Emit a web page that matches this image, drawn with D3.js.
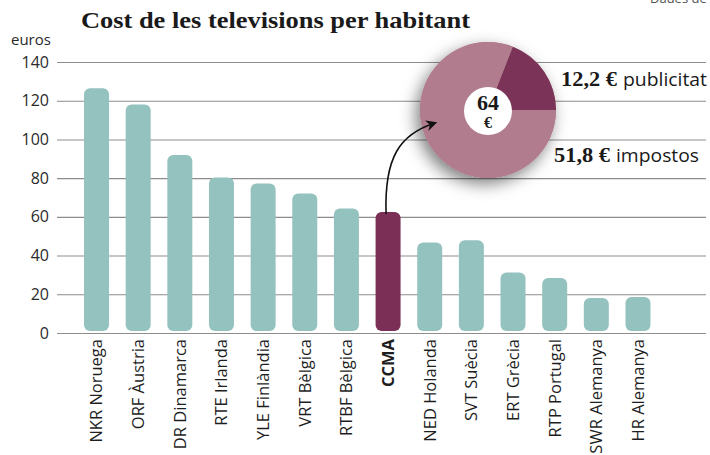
<!DOCTYPE html>
<html>
<head>
<meta charset="utf-8">
<script src="https://cdn.jsdelivr.net/npm/d3@7"></script>
<style>
  body { margin: 0; background: #fff; }
  svg { display: block; }
</style>
</head>
<body>
<div id="chart"></div>
<script>
const broadcasters = [
  "NKR Noruega", "ORF Àustria", "DR Dinamarca", "RTE Irlanda", "YLE Finlàndia",
  "VRT Bèlgica", "RTBF Bèlgica", "CCMA", "NED Holanda", "SVT Suècia",
  "ERT Grècia", "RTP Portugal", "SWR Alemanya", "HR Alemanya"
];
const costPerHead = [126.4, 118.1, 91.9, 80.3, 77.2, 72.1, 64.3, 62.5, 46.7, 47.9, 31.2, 28.4, 18.1, 18.6];
const yTicks = [0, 20, 40, 60, 80, 100, 120, 140];

const pieLabels = ["publicitat", "impostos"];
const pieValues = [12.2, 51.8];
const pieValueText = ["12,2 €", "51,8 €"];
const pieTotal = "64";

const width = 710;
const height = 455;
const teal = "#94c2be";
const wine = "#7c2f56";

const svg = d3.select("#chart")
  .append("svg")
  .attr("width", width)
  .attr("height", height);

const defs = svg.append("defs");
const shadow = defs.append("filter")
  .attr("id", "pieShadow")
  .attr("x", "-40%").attr("y", "-40%")
  .attr("width", "180%").attr("height", "180%");
shadow.append("feDropShadow")
  .attr("dx", -4).attr("dy", 6)
  .attr("stdDeviation", 8)
  .attr("flood-color", "#000")
  .attr("flood-opacity", 0.5);

const marker = defs.append("marker")
  .attr("id", "arrowHead")
  .attr("viewBox", "0 0 10 10")
  .attr("refX", 8).attr("refY", 5)
  .attr("markerWidth", 11).attr("markerHeight", 11)
  .attr("markerUnits", "userSpaceOnUse")
  .attr("orient", "auto");
marker.append("path")
  .attr("d", "M0,0 L10,5 L0,10 L3,5 Z")
  .attr("fill", "#111");

const data = broadcasters.map((name, i) => ({ name, value: costPerHead[i] }));

const x = d3.scaleBand()
  .domain(broadcasters)
  .range([75.7, 658.8])
  .paddingInner(0.4)
  .paddingOuter(0.2);

const y = d3.scaleLinear()
  .domain([0, 140])
  .range([333, 62]);

// grid + tick labels
const yAxis = svg.append("g")
  .attr("transform", "translate(57,0)")
  .call(d3.axisLeft(y).tickValues(yTicks).tickSize(-(706 - 57)).tickPadding(8));
yAxis.select(".domain").remove();
yAxis.selectAll(".tick line")
  .attr("stroke", "#8d8d8d")
  .attr("stroke-width", 1.1);
yAxis.selectAll(".tick text")
  .attr("font-family", "'Open Sans', sans-serif")
  .attr("font-size", 16)
  .attr("fill", "#2a2a2a");

svg.append("text")
  .attr("x", 11)
  .attr("y", 45)
  .attr("font-family", "'Open Sans', sans-serif")
  .attr("font-size", 15)
  .attr("fill", "#2a2a2a")
  .text("euros");

// bars
svg.selectAll("rect.bar")
  .data(data)
  .enter()
  .append("rect")
  .attr("class", "bar")
  .attr("x", d => x(d.name))
  .attr("y", d => y(d.value))
  .attr("width", x.bandwidth())
  .attr("height", d => y(0) - 2 - y(d.value))
  .attr("rx", 6)
  .attr("fill", d => d.name === "CCMA" ? wine : teal);

// category labels
svg.selectAll("text.cat")
  .data(data)
  .enter()
  .append("text")
  .attr("class", "cat")
  .attr("transform", d => `translate(${x(d.name) + x.bandwidth() / 2},339) rotate(-90)`)
  .attr("text-anchor", "end")
  .attr("dy", "0.36em")
  .attr("font-family", "'Open Sans', sans-serif")
  .attr("font-size", 16.5)
  .attr("font-weight", d => d.name === "CCMA" ? 700 : 400)
  .attr("fill", "#1e1e1e")
  .text(d => d.name);

// title
svg.append("text")
  .attr("x", 81)
  .attr("y", 28)
  .attr("font-family", "'Liberation Serif', serif")
  .attr("font-weight", 700)
  .attr("font-size", 24)
  .attr("textLength", 389)
  .attr("lengthAdjust", "spacingAndGlyphs")
  .attr("fill", "#1a1a1a")
  .text("Cost de les televisions per habitant");

svg.append("text")
  .attr("x", 650)
  .attr("y", 3)
  .attr("font-family", "'Open Sans', sans-serif")
  .attr("font-size", 13)
  .attr("fill", "#555")
  .text("Dades de");

// pie
const cx = 488, cy = 110, r = 68;
const pieShare = pieValues[0] / d3.sum(pieValues);
const start = Math.PI / 2 - 2 * Math.PI * pieShare;
const pie = d3.pie()
  .sort(null)
  .startAngle(start)
  .endAngle(start + 2 * Math.PI);
const arc = d3.arc().innerRadius(0).outerRadius(r);
const pieG = svg.append("g")
  .attr("transform", `translate(${cx},${cy})`);
pieG.append("circle")
  .attr("r", r)
  .attr("fill", "#b07c8e")
  .attr("filter", "url(#pieShadow)");
pieG.selectAll("path")
  .data(pie(pieValues))
  .enter()
  .append("path")
  .attr("d", arc)
  .attr("fill", (d, i) => i === 0 ? "#7b3458" : "#b07c8e");
pieG.append("circle")
  .attr("r", 24)
  .attr("cy", 1)
  .attr("fill", "#fff");
pieG.append("text")
  .attr("y", 0)
  .attr("text-anchor", "middle")
  .attr("font-family", "'Liberation Serif', serif")
  .attr("font-weight", 700)
  .attr("font-size", 22)
  .attr("fill", "#1a1a1a")
  .text(pieTotal);
pieG.append("text")
  .attr("y", 18)
  .attr("text-anchor", "middle")
  .attr("font-family", "'Liberation Serif', serif")
  .attr("font-weight", 700)
  .attr("font-size", 16)
  .attr("fill", "#1a1a1a")
  .text("€");

// arrow from CCMA bar to the pie (drawn over the pie)
const ccmaX = x("CCMA") + x.bandwidth() / 2;
const ccmaTop = y(costPerHead[broadcasters.indexOf("CCMA")]);
svg.append("path")
  .attr("d", `M${ccmaX - 2},${ccmaTop + 2} C${ccmaX - 4},${ccmaTop - 55} ${ccmaX + 12},${ccmaTop - 78} ${ccmaX + 47},${ccmaTop - 89}`)
  .attr("fill", "none")
  .attr("stroke", "#111")
  .attr("stroke-width", 1.6)
  .attr("marker-end", "url(#arrowHead)");

// pie labels
const labelPos = [{ x: 561, y: 86, w: 56, lx: 623, lw: 84 }, { x: 554, y: 162, w: 56, lx: 616, lw: 83 }];
pieLabels.forEach((lab, i) => {
  const p = labelPos[i];
  svg.append("text")
    .attr("x", p.x)
    .attr("y", p.y)
    .attr("font-family", "'Liberation Serif', serif")
    .attr("font-weight", 700)
    .attr("font-size", 21)
    .attr("textLength", p.w)
    .attr("lengthAdjust", "spacingAndGlyphs")
    .attr("fill", "#1a1a1a")
    .text(pieValueText[i]);
  svg.append("text")
    .attr("x", p.lx)
    .attr("y", p.y)
    .attr("font-family", "'Open Sans', sans-serif")
    .attr("font-size", 19)
    .attr("textLength", p.lw)
    .attr("lengthAdjust", "spacingAndGlyphs")
    .attr("fill", "#1a1a1a")
    .text(lab);
});
</script>
</body>
</html>
